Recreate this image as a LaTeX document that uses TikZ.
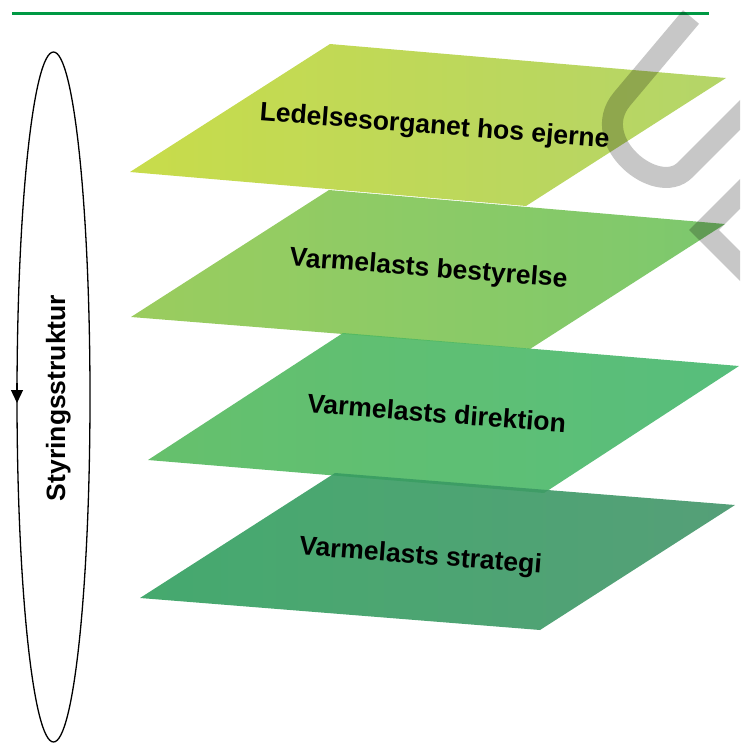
\documentclass[tikz,border=0pt]{standalone}
\usepackage{fontspec}
\setmainfont{Liberation Sans}
\usepackage{tikz}
\usetikzlibrary{shapes.geometric,arrows.meta}
\definecolor{rulegreen}{RGB}{0,153,68}
\definecolor{layerAl}{RGB}{194,216,55}
\definecolor{layerAr}{RGB}{172,208,88}
\definecolor{layerBl}{RGB}{144,199,77}
\definecolor{layerBr}{RGB}{110,194,94}
\definecolor{layerCl}{RGB}{85,185,92}
\definecolor{layerCr}{RGB}{69,183,110}
\definecolor{layerDl}{RGB}{49,160,94}
\definecolor{layerDr}{RGB}{66,149,105}
\tikzset{
	layer/.style    = {fill opacity=.9, draw=none},
	txt/.style      = {font=\bfseries\fontsize{26.5}{30}\selectfont,
		anchor=base, inner sep=0pt},
	lbl/.style      = {txt, rotate=-4.4},
	ring/.style     = {draw, ellipse, line width=1.3pt, outer sep=0pt,
		minimum width=73pt,
		minimum height=690pt},
	wmark/.style    = {draw=black, draw opacity=.22, line width=21pt},
}

\begin{document}
\begin{tikzpicture}[x=1pt, y=-1pt,                 %<--one unit is one pixel, y runs down
                    >={Triangle[length=13pt,width=12pt]}]  %<--sets the arrowtype
    \useasboundingbox (0,0) rectangle (740,744);

    %Drawing the Layers:
    \shade[layer, left color=layerAl, right color=layerAr] (330,44) -- (726,78) -- (526,206) -- (130,172) -- cycle;
    \shade[layer, left color=layerBl, right color=layerBr] (329,190) -- (725,224) -- (530,349) -- (131,317) -- cycle;
    \shade[layer, left color=layerCl, right color=layerCr] (343,333) -- (739,366) -- (544,493) -- (148,460) -- cycle;
    \shade[layer, left color=layerDl, right color=layerDr] (335,473) -- (735,505) -- (540,630) -- (140,598) -- cycle;

    \draw%-----------------------------------------------------------------------------------------
    	%Drawing the Top Rule:
    	node[shape=coordinate][](ruleL) at (12,13){}
    	node[shape=coordinate][](ruleR) at (709,13){}
    	%Drawing the Layer Labels:
    	node(ejer)       at (434,134)   [lbl] {Ledelsesorganet hos ejerne}
    	node(bestyrelse) at (428,276.5) [lbl] {Varmelasts bestyrelse}
    	node(direktion)  at (436,422.5) [lbl] {Varmelasts direktion}
    	node(strategi)   at (420,564)   [lbl] {Varmelasts strategi}
    	%Drawing the Governance Loop:
    	node(styring) at (53.5,397) [ring] {}
    	node(styrlbl) at (65,398) [txt, rotate=90] {Styringsstruktur}
    ;%---------------------------------------------------------------------------------------------

    \draw[rulegreen, line width=3pt] (ruleL) -- (ruleR);
    \draw[->, line width=1.3pt] ([yshift=14pt]styring.west) -- ([yshift=-6pt]styring.west);

    %Drawing the watermark
    \begin{scope}
    	\clip (0,0) rectangle (740,744);
    	\draw[wmark] (691,17) -- (622,99) .. controls (587,141) and (657,198) .. (685,170) -- (780,75);
    	\draw[wmark] (780,154) -- (704,230) -- (780,306);
    \end{scope}
\end{tikzpicture}
\end{document}
